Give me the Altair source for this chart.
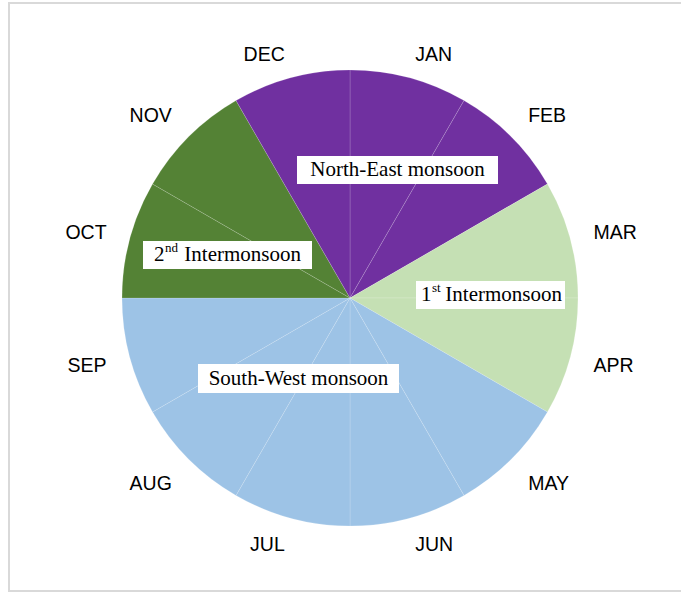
import altair as alt
import pandas as pd

months = ["JAN", "FEB", "MAR", "APR", "MAY", "JUN",
          "JUL", "AUG", "SEP", "OCT", "NOV", "DEC"]
values = [1, 1, 1, 1, 1, 1, 1, 1, 1, 1, 1, 1]
seasons = ["North-East monsoon", "North-East monsoon", "1st Intermonsoon", "1st Intermonsoon",
           "South-West monsoon", "South-West monsoon", "South-West monsoon", "South-West monsoon",
           "South-West monsoon", "2nd Intermonsoon", "2nd Intermonsoon", "North-East monsoon"]
season_names = ["North-East monsoon", "1st Intermonsoon", "South-West monsoon", "2nd Intermonsoon"]
season_colors = ["#7030A0", "#C5E0B4", "#9DC3E6", "#548235"]

df = pd.DataFrame({"month": months, "value": values, "season": seasons,
                   "idx": list(range(len(months)))})

CX, CY = 350, 298
TWO_PI = 6.283185307179586
theta_scale = alt.Scale(domain=[0, 12], range=[0, TWO_PI])

base = alt.Chart(df)

frame = alt.Chart(pd.DataFrame({"a": [0]})).mark_rect(
    fill="white", stroke="#d9d9d9", strokeWidth=2
).encode(x=alt.value(9), x2=alt.value(700), y=alt.value(3), y2=alt.value(591))

pie = base.mark_arc(radius=228, stroke="white", strokeWidth=0.8, strokeOpacity=0.2).encode(
    theta=alt.Theta("value:Q", stack=True, scale=theta_scale),
    color=alt.Color("season:N", scale=alt.Scale(domain=season_names, range=season_colors), legend=None),
    order=alt.Order("idx:Q"),
    x=alt.value(CX), y=alt.value(CY),
)

lab_base = base.transform_window(
    cum="sum(value)", sort=[alt.SortField("idx")]
).transform_calculate(
    mid="datum.cum - datum.value / 2",
)

def month_labels(filter_expr, align, dy):
    return lab_base.transform_filter(filter_expr).mark_text(
        radius=252, align=align, baseline="middle", dy=dy,
        font="Liberation Sans", fontSize=19.5, color="#000000",
    ).encode(
        theta=alt.Theta("mid:Q", stack=None, scale=theta_scale),
        text="month:N",
        x=alt.value(CX), y=alt.value(CY),
    )

label_layers = [
    month_labels("datum.mid == 0.5 || datum.mid == 2.5", "left", 0),
    month_labels("datum.mid == 1.5", "left", -4),
    month_labels("datum.mid == 3.5", "left", 3),
    month_labels("datum.mid == 4.5", "left", 8),
    month_labels("datum.mid == 5.5", "left", 4),
    month_labels("datum.mid == 11.5 || datum.mid == 9.5", "right", 0),
    month_labels("datum.mid == 10.5", "right", -4),
    month_labels("datum.mid == 8.5", "right", 3),
    month_labels("datum.mid == 7.5", "right", 8),
    month_labels("datum.mid == 6.5", "right", 4),
]

one = pd.DataFrame({"a": [0]})
SERIF = "Liberation Serif"
FS = 21

def box(x1, x2, y1, y2):
    return alt.Chart(one).mark_rect(fill="white").encode(
        x=alt.value(x1), x2=alt.value(x2), y=alt.value(y1), y2=alt.value(y2))

def txt(s, x, y, align="center", size=FS):
    return alt.Chart(one).mark_text(
        text=s, align=align, baseline="middle", font=SERIF, fontSize=size, color="#000000"
    ).encode(x=alt.value(x), y=alt.value(y))

annotations = [
    box(297, 498, 156, 184), txt("North-East monsoon", 397.5, 170),
    box(198, 399, 364, 393), txt("South-West monsoon", 298.5, 378.5),
    box(143, 312, 241, 269), txt("2", 154, 255, "left"), txt("nd", 165, 248, "left", 13),
    txt("Intermonsoon", 301, 255, "right"),
    box(416, 565, 281, 309), txt("1", 421, 295, "left"), txt("st", 432, 288, "left", 13),
    txt("Intermonsoon", 562, 295, "right"),
]

chart = alt.layer(frame, pie, *label_layers, *annotations).properties(
    width=681, height=592, padding=0, autosize=alt.AutoSizeParams(type="none")
).resolve_scale(theta="independent").configure_view(stroke=None)

chart.save("out.html", embed_options={"renderer": "svg", "actions": False})
